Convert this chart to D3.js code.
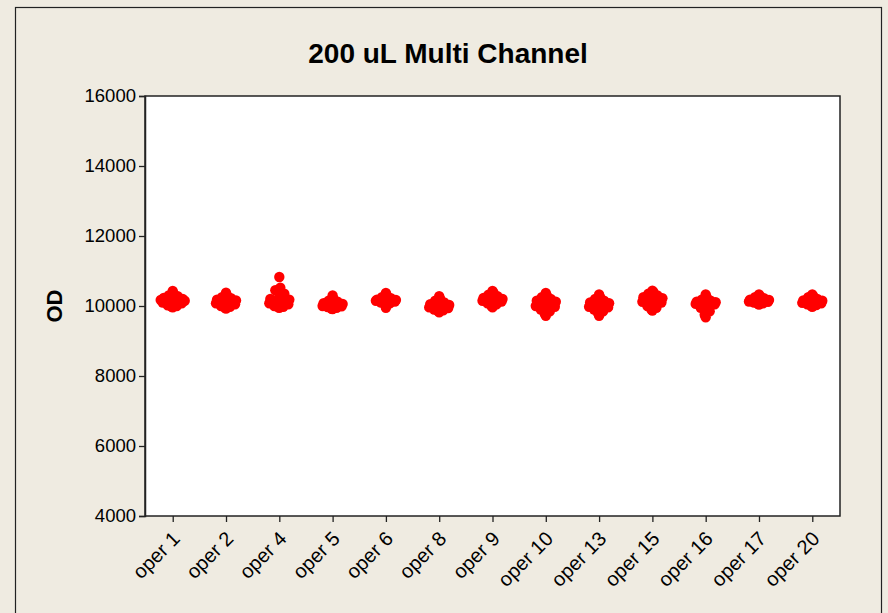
<!DOCTYPE html>
<html>
<head>
<meta charset="utf-8">
<script src="https://cdn.jsdelivr.net/npm/d3@7"></script>
<style>
  html, body { margin: 0; padding: 0; background: #EFEBE1; }
  svg { display: block; }
  text { font-family: "Liberation Sans", Arial, sans-serif; fill: #000; }
</style>
</head>
<body>
<svg id="chart" width="888" height="613"></svg>
<script>
// Operators (categories) on the x axis
const operators = ["oper 1", "oper 2", "oper 4", "oper 5", "oper 6", "oper 8", "oper 9",
                   "oper 10", "oper 13", "oper 15", "oper 16", "oper 17", "oper 20"];

// OD readings per operator (sorted high to low)
const oper1  = [10430, 10350, 10300, 10280, 10250, 10230, 10200, 10200, 10180, 10170, 10150, 10150, 10120, 10100, 10080, 10050, 10020, 10000, 9980, 9960];
const oper2  = [10380, 10300, 10250, 10220, 10200, 10180, 10160, 10150, 10130, 10120, 10100, 10080, 10050, 10030, 10000, 9980, 9950, 9930];
const oper4  = [10830, 10520, 10450, 10350, 10250, 10200, 10180, 10150, 10120, 10100, 10080, 10050, 10030, 10000, 9980, 9960, 9950];
const oper5  = [10300, 10200, 10150, 10120, 10100, 10080, 10060, 10050, 10040, 10030, 10020, 10000, 9990, 9980, 9970, 9950, 9920, 9910];
const oper6  = [10370, 10300, 10250, 10220, 10200, 10180, 10170, 10150, 10130, 10120, 10100, 10080, 10050, 9950];
const oper8  = [10280, 10200, 10150, 10100, 10080, 10050, 10030, 10000, 9980, 9960, 9940, 9920, 9900, 9880, 9850, 9820];
const oper9  = [10430, 10380, 10320, 10280, 10250, 10230, 10200, 10180, 10160, 10150, 10130, 10100, 10080, 10050, 10000, 9960];
const oper10 = [10370, 10300, 10250, 10200, 10180, 10150, 10120, 10100, 10080, 10050, 10020, 10000, 9980, 9950, 9900, 9850, 9780, 9720];
const oper13 = [10330, 10250, 10200, 10150, 10120, 10100, 10080, 10060, 10050, 10030, 10000, 9980, 9960, 9940, 9900, 9850, 9790, 9720];
const oper15 = [10440, 10400, 10350, 10300, 10280, 10250, 10220, 10200, 10180, 10150, 10120, 10100, 10050, 10000, 9950, 9900, 9870];
const oper16 = [10330, 10250, 10180, 10150, 10130, 10120, 10110, 10100, 10090, 10080, 10060, 10050, 10020, 9950, 9850, 9750, 9680];
const oper17 = [10330, 10280, 10250, 10220, 10200, 10180, 10170, 10160, 10150, 10140, 10130, 10120, 10110, 10100, 10080, 10060, 10040];
const oper20 = [10330, 10280, 10250, 10200, 10180, 10160, 10150, 10130, 10120, 10100, 10090, 10080, 10060, 10050, 10030, 10000, 9980];

const seriesValues = [oper1, oper2, oper4, oper5, oper6, oper8, oper9, oper10, oper13, oper15, oper16, oper17, oper20];

// Y axis tick labels
const yTicks = [4000, 6000, 8000, 10000, 12000, 14000, 16000];

// Horizontal spread (pixels) by distance from the ends of each sorted group:
// extremes sit on the centre line, the bulk fans out sideways.
const spread = [0, 1, -4, 5, 0, -9, 10, -5, 8, -12, 12, 0, 3, -7, 10, -2];

const svg = d3.select("#chart");
const H = 613;
const plot = { left: 145, top: 96, right: 840, bottom: 516 };

// outer frame
svg.append("rect")
  .attr("x", 15.5).attr("y", 7.5)
  .attr("width", 881 - 15).attr("height", H)
  .attr("fill", "#EFEBE1").attr("stroke", "#222").attr("stroke-width", 1.2);

// plot area
svg.append("rect")
  .attr("x", plot.left).attr("y", plot.top)
  .attr("width", plot.right - plot.left).attr("height", plot.bottom - plot.top)
  .attr("fill", "#fff").attr("stroke", "#222").attr("stroke-width", 1.5);

const x = d3.scalePoint().domain(operators).range([plot.left, plot.right]).padding(0.52);
const y = d3.scaleLinear().domain([4000, 16000]).range([plot.bottom, plot.top]);

// y axis
const yAxis = svg.append("g")
  .attr("transform", `translate(${plot.left},0)`)
  .call(d3.axisLeft(y).tickValues(yTicks).tickFormat(d3.format("d")).tickSize(6).tickPadding(3));
yAxis.select(".domain").attr("stroke", "#222").attr("stroke-width", 1.5);
yAxis.selectAll(".tick line").attr("stroke", "#222").attr("stroke-width", 1.3);
yAxis.selectAll(".tick text").style("font-size", "18.5px").style("font-family", "Liberation Sans, Arial, sans-serif").attr("fill", "#000");

// x axis
const xAxis = svg.append("g")
  .attr("transform", `translate(0,${plot.bottom})`)
  .call(d3.axisBottom(x).tickSize(6).tickSizeOuter(0));
xAxis.select(".domain").remove();
xAxis.selectAll(".tick line").attr("stroke", "#222").attr("stroke-width", 1.3);
xAxis.selectAll(".tick text")
  .style("font-size", "20px").style("font-family", "Liberation Sans, Arial, sans-serif").attr("fill", "#000")
  .attr("text-anchor", "end")
  .attr("dy", null).attr("y", null)
  .attr("transform", "translate(8,24) rotate(-45)");

// points
const pts = [];
operators.forEach((op, i) => {
  const vals = seriesValues[i];
  const n = vals.length;
  vals.forEach((v, j) => {
    const k = Math.min(j, n - 1 - j);
    const sign = j < n / 2 ? 1 : -1;
    pts.push({ op, v, dx: sign * spread[k % spread.length] });
  });
});
svg.append("g").selectAll("circle")
  .data(pts)
  .join("circle")
  .attr("cx", d => x(d.op) + d.dx)
  .attr("cy", d => y(d.v))
  .attr("r", 5.2)
  .attr("fill", "#FF0000");

// title
svg.append("text")
  .attr("x", 448).attr("y", 63)
  .attr("text-anchor", "middle")
  .style("font-size", "28px").style("font-weight", "bold")
  .text("200 uL Multi Channel");

// y axis title
svg.append("text")
  .attr("transform", `translate(62,${(plot.top + plot.bottom) / 2}) rotate(-90)`)
  .attr("text-anchor", "middle")
  .style("font-size", "22px").style("font-weight", "bold")
  .text("OD");
</script>
</body>
</html>
